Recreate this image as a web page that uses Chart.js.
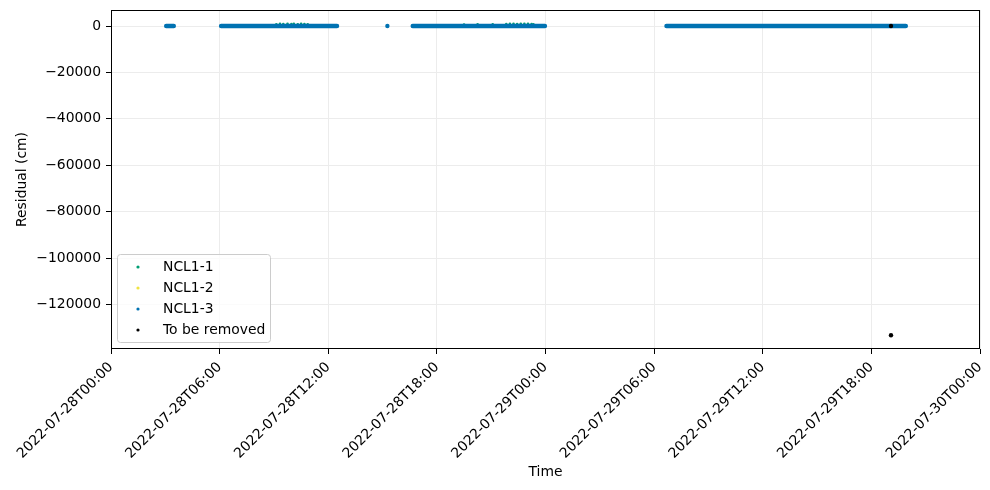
<!DOCTYPE html>
<html>
<head>
<meta charset="utf-8">
<script src="https://cdn.jsdelivr.net/npm/chart.js@4.4.0/dist/chart.umd.min.js"></script>
<style>
  html, body { margin: 0; padding: 0; background: #fff; }
  canvas { display: block; }
</style>
</head>
<body>
<canvas id="residualChart" width="990" height="490"></canvas>
<script>
// Axes
const timeTicks = [
    '2022-07-28T00:00', '2022-07-28T06:00', '2022-07-28T12:00', '2022-07-28T18:00',
    '2022-07-29T00:00', '2022-07-29T06:00', '2022-07-29T12:00', '2022-07-29T18:00',
    '2022-07-30T00:00'
];
const residualTicks = [0, -20000, -40000, -60000, -80000, -100000, -120000];
const residualRange = [-139200, 6900];

// NCL1-3 : les échantillons sont si denses qu'ils forment des plages continues
const ncl13RunStarts = ['2022-07-28T03:03', '2022-07-28T06:05', '2022-07-28T16:40', '2022-07-29T06:41'];
const ncl13RunEnds   = ['2022-07-28T03:28', '2022-07-28T12:29', '2022-07-28T23:58', '2022-07-29T19:54'];
const ncl13RunValues = [0, 0, 0, 0];
const ncl13SingleTimes  = ['2022-07-28T15:16'];
const ncl13SingleValues = [0];

// NCL1-1 : seuls les points qui dépassent au-dessus de la bande bleue sont visibles
const ncl11Times = [
    '2022-07-28T09:08', '2022-07-28T09:20', '2022-07-28T09:31', '2022-07-28T09:45',
    '2022-07-28T09:58', '2022-07-28T10:06', '2022-07-28T10:19', '2022-07-28T10:30',
    '2022-07-28T10:41', '2022-07-28T10:52',
    '2022-07-28T19:30', '2022-07-28T20:15', '2022-07-28T21:05', '2022-07-28T21:50',
    '2022-07-28T22:02', '2022-07-28T22:14', '2022-07-28T22:26', '2022-07-28T22:38',
    '2022-07-28T22:50', '2022-07-28T23:02', '2022-07-28T23:14', '2022-07-28T23:20'
];
const ncl11Values = [
    750, 900, 800, 950, 850, 900, 750, 900, 800, 700,
    650, 750, 700, 800, 900, 950, 850, 1000, 900, 950, 850, 750
];

// NCL1-2 : rien de visible sur la figure
const ncl12Times = [];
const ncl12Values = [];

// Points à supprimer
const removedTimes  = ['2022-07-29T19:05', '2022-07-29T19:05'];
const removedValues = [0, -133300];

const colors = {
    ncl11: '#009e73',
    ncl12: '#f0e442',
    ncl13: '#0072b2',
    removed: '#000000',
    grid: '#ececec'
};

const FONT = 'DejaVu Sans';

function toMs(s) {
    return Date.parse(s + ':00Z');
}

function formatTime(ms) {
    return new Date(ms).toISOString().slice(0, 16);
}

function formatResidual(v) {
    return v < 0 ? '\u2212' + Math.abs(v) : String(v);
}

function toPoints(times, values) {
    return times.map((t, i) => ({ x: toMs(t), y: values[i] }));
}

function toRuns(starts, ends, values) {
    const pts = [];
    starts.forEach((s, i) => {
        pts.push({ x: toMs(s), y: values[i] });
        pts.push({ x: toMs(ends[i]), y: values[i] });
        pts.push({ x: toMs(ends[i]), y: null });
    });
    return pts;
}

// Pas de marge automatique autour des étiquettes : la zone est fixée par layout.padding
function noScalePadding(scale) {
    scale.paddingTop = 0;
    scale.paddingBottom = 0;
    scale.paddingLeft = 0;
    scale.paddingRight = 0;
}

const legendItems = [
    { label: 'NCL1-1', color: colors.ncl11 },
    { label: 'NCL1-2', color: colors.ncl12 },
    { label: 'NCL1-3', color: colors.ncl13 },
    { label: 'To be removed', color: colors.removed }
];

// Cadre complet + légende façon matplotlib, dans la zone du graphique
const frameAndLegend = {
    id: 'frameAndLegend',
    afterDatasetsDraw(chart) {
        const { ctx, chartArea: a } = chart;
        ctx.save();
        ctx.strokeStyle = '#000';
        ctx.lineWidth = 1;
        ctx.strokeRect(Math.round(a.left) + 0.5, Math.round(a.top) + 0.5,
            Math.round(a.right - a.left) - 1, Math.round(a.bottom - a.top) - 1);

        const w = 153, h = 88, r = 3;
        const x = Math.round(a.left) + 6.5;
        const y = Math.round(a.bottom) - 6.5 - h;
        ctx.beginPath();
        ctx.moveTo(x + r, y);
        ctx.lineTo(x + w - r, y);
        ctx.quadraticCurveTo(x + w, y, x + w, y + r);
        ctx.lineTo(x + w, y + h - r);
        ctx.quadraticCurveTo(x + w, y + h, x + w - r, y + h);
        ctx.lineTo(x + r, y + h);
        ctx.quadraticCurveTo(x, y + h, x, y + h - r);
        ctx.lineTo(x, y + r);
        ctx.quadraticCurveTo(x, y, x + r, y);
        ctx.closePath();
        ctx.fillStyle = 'rgba(255,255,255,0.8)';
        ctx.fill();
        ctx.strokeStyle = '#cccccc';
        ctx.stroke();

        ctx.font = '13.9px "' + FONT + '"';
        ctx.textBaseline = 'middle';
        ctx.textAlign = 'left';
        legendItems.forEach((item, i) => {
            const cy = y + 12.5 + i * 21;
            ctx.fillStyle = item.color;
            ctx.beginPath();
            ctx.arc(x + 20.5, cy, 1.6, 0, Math.PI * 2);
            ctx.fill();
            ctx.fillStyle = '#000';
            ctx.fillText(item.label, x + 45.5, cy);
        });
        ctx.restore();
    }
};

new Chart(document.getElementById('residualChart'), {
    type: 'scatter',
    data: {
        datasets: [
            {
                label: 'To be removed',
                data: toPoints(removedTimes, removedValues),
                backgroundColor: colors.removed,
                borderWidth: 0,
                pointRadius: 2.2
            },
            {
                label: 'NCL1-3 single',
                data: toPoints(ncl13SingleTimes, ncl13SingleValues),
                backgroundColor: colors.ncl13,
                borderWidth: 0,
                pointRadius: 2.2
            },
            {
                label: 'NCL1-3',
                data: toRuns(ncl13RunStarts, ncl13RunEnds, ncl13RunValues),
                showLine: true,
                spanGaps: false,
                borderColor: colors.ncl13,
                borderWidth: 4.5,
                borderCapStyle: 'round',
                pointRadius: 0
            },
            {
                label: 'NCL1-2',
                data: toPoints(ncl12Times, ncl12Values),
                backgroundColor: colors.ncl12,
                borderWidth: 0,
                pointRadius: 1.3
            },
            {
                label: 'NCL1-1',
                data: toPoints(ncl11Times, ncl11Values),
                backgroundColor: colors.ncl11,
                borderWidth: 0,
                pointRadius: 1.3
            }
        ]
    },
    options: {
        responsive: false,
        animation: false,
        events: [],
        layout: {
            padding: { top: 10, right: 10, bottom: 0, left: 0 }
        },
        plugins: {
            legend: { display: false },
            tooltip: { enabled: false }
        },
        scales: {
            x: {
                type: 'linear',
                min: toMs(timeTicks[0]),
                max: toMs(timeTicks[timeTicks.length - 1]),
                afterBuildTicks: scale => {
                    scale.ticks = timeTicks.map(t => ({ value: toMs(t) }));
                },
                afterFit: scale => {
                    scale.height = 141;
                    noScalePadding(scale);
                },
                ticks: {
                    autoSkip: false,
                    minRotation: 45,
                    maxRotation: 45,
                    padding: 5,
                    color: '#000',
                    font: { family: FONT, size: 13.9 },
                    callback: v => formatTime(v)
                },
                grid: {
                    color: colors.grid,
                    tickColor: '#000',
                    tickLength: 5
                },
                border: { display: false },
                title: {
                    display: true,
                    text: 'Time',
                    color: '#000',
                    font: { family: FONT, size: 13.9 },
                    padding: { top: 0, bottom: 9 }
                }
            },
            y: {
                min: residualRange[0],
                max: residualRange[1],
                afterBuildTicks: scale => {
                    scale.ticks = residualTicks.map(v => ({ value: v }));
                },
                afterFit: scale => {
                    scale.width = 111;
                    noScalePadding(scale);
                },
                ticks: {
                    padding: 5,
                    color: '#000',
                    font: { family: FONT, size: 13.9 },
                    callback: v => formatResidual(v)
                },
                grid: {
                    color: colors.grid,
                    tickColor: '#000',
                    tickLength: 5
                },
                border: { display: false },
                title: {
                    display: true,
                    text: 'Residual (cm)',
                    color: '#000',
                    font: { family: FONT, size: 13.9 },
                    padding: { top: 14, bottom: 0 }
                }
            }
        }
    },
    plugins: [frameAndLegend]
});
</script>
</body>
</html>
